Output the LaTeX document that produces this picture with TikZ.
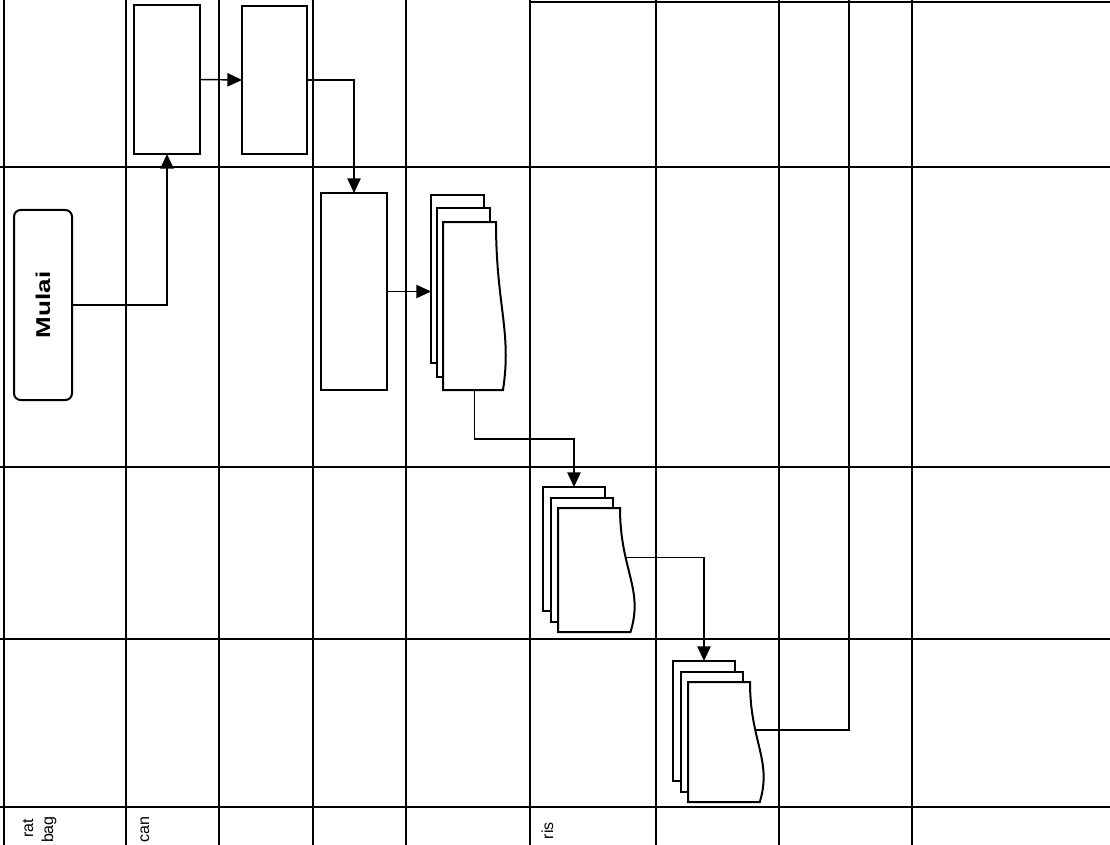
\documentclass[tikz,border=0pt]{standalone}
\usepackage{fontspec}
\setmainfont[FakeStretch=1.3]{Liberation Sans}
\newfontfamily\headfont{Liberation Sans}
\usetikzlibrary{arrows.meta}

\newcommand{\docstack}[8]{%
  \node[docpage, anchor=north west, minimum width=#4*0.75pt, minimum height=#5*0.75pt] (#1-back) at (#2,#3) {};
  \node[docpage, anchor=north west, minimum width=#4*0.75pt, minimum height=#5*0.75pt] (#1-mid) at ({#2+#6},{#3+#7}) {};
  \draw[docpage] ({#2+2*#6},{#3+2*#7}) -- ++(#4,0)
    .. controls ({#2+2*#6+#4},{#3+2*#7+0.5*#5}) and ({#2+2*#6+#4+1.6*#8},{#3+2*#7+0.65*#5})
    .. ({#2+2*#6+#4+0.7*#8},{#3+2*#7+#5}) -- ({#2+2*#6},{#3+2*#7+#5}) -- cycle;
  \node[anchor=north west, inner sep=0pt, outer sep=0pt, minimum width={(#4+#8)*0.75pt}, minimum height=#5*0.75pt] (#1) at ({#2+2*#6},{#3+2*#7}) {};
  \coordinate (#1-out) at ({#2+2*#6+#4+0.38*#8},{#3+2*#7+0.4*#5});
}

\begin{document}
\begin{tikzpicture}[x=0.75pt, y=-0.75pt, >={Triangle[length=11pt,width=10pt]},
    gridline/.style={line width=0.9pt},
    box/.style={draw, line width=1.5pt, fill=white, inner sep=0pt, outer sep=0pt},
    docpage/.style={draw, line width=1.5pt, fill=white, inner sep=0pt, outer sep=0pt},
    flow/.style={->, line width=1.1pt},
    headtext/.style={rotate=90, inner sep=0pt, font=\headfont\fontsize{12}{14}\selectfont}]
    \useasboundingbox (0,0) rectangle (1110,845);
    \clip (0,0) rectangle (1110,845);
    \fill[white] (0,0) rectangle (1110,845);

    \foreach \x in {4,126,219,313,406,530,656,779,912}
        \draw[gridline] (\x,0) -- (\x,845);
    \foreach \y in {167,467,639,807}
        \draw[gridline] (0,\y) -- (1110,\y);
    \draw[gridline] (530,2) -- (1110,2);

    \node[headtext, anchor=base east] (hrat) at (33,819) {rat};
    \node[headtext, anchor=base east] (hbag) at (53,816) {bag};
    \node[headtext, anchor=base east] (hcan) at (149,816) {can};
    \node[headtext, anchor=base east] (hris) at (553,822) {ris};

    \node[box, rounded corners=5pt, rotate=90, minimum width=190*0.75pt, minimum height=58*0.75pt, font=\fontsize{15}{18}\selectfont\bfseries] (mulai) at (43,305) {Mulai};
    \node[box, minimum width=66*0.75pt, minimum height=149*0.75pt] (b1) at (167,79.5) {};
    \node[box, minimum width=65*0.75pt, minimum height=148*0.75pt] (b2) at (274.5,80) {};
    \node[box, minimum width=66*0.75pt, minimum height=197*0.75pt] (b3) at (354,291.5) {};

    \docstack{d1}{431}{195}{53}{168}{6}{13.5}{10}
    \docstack{d2}{543}{487}{62}{124}{7.5}{10.5}{15}
    \docstack{d3}{673}{661}{62}{120}{7.5}{10.5}{14}
    \coordinate (top) at (849,0);

    \draw[flow] (mulai.south) -| (b1.south);
    \draw[flow] (b1.east) -- (b2.west);
    \draw[flow] (b2.east) -| (b3.north);
    \draw[flow] (b3.east) -- (b3.east -| d1-back.west);
    \draw[flow] (d1.south) -- ++(0,49) -| (d2-back.north);
    \draw[flow] (d2-out) -| (d3-back.north);
    \draw[line width=1.1pt] (d3-out) -| (top);
\end{tikzpicture}
\end{document}
